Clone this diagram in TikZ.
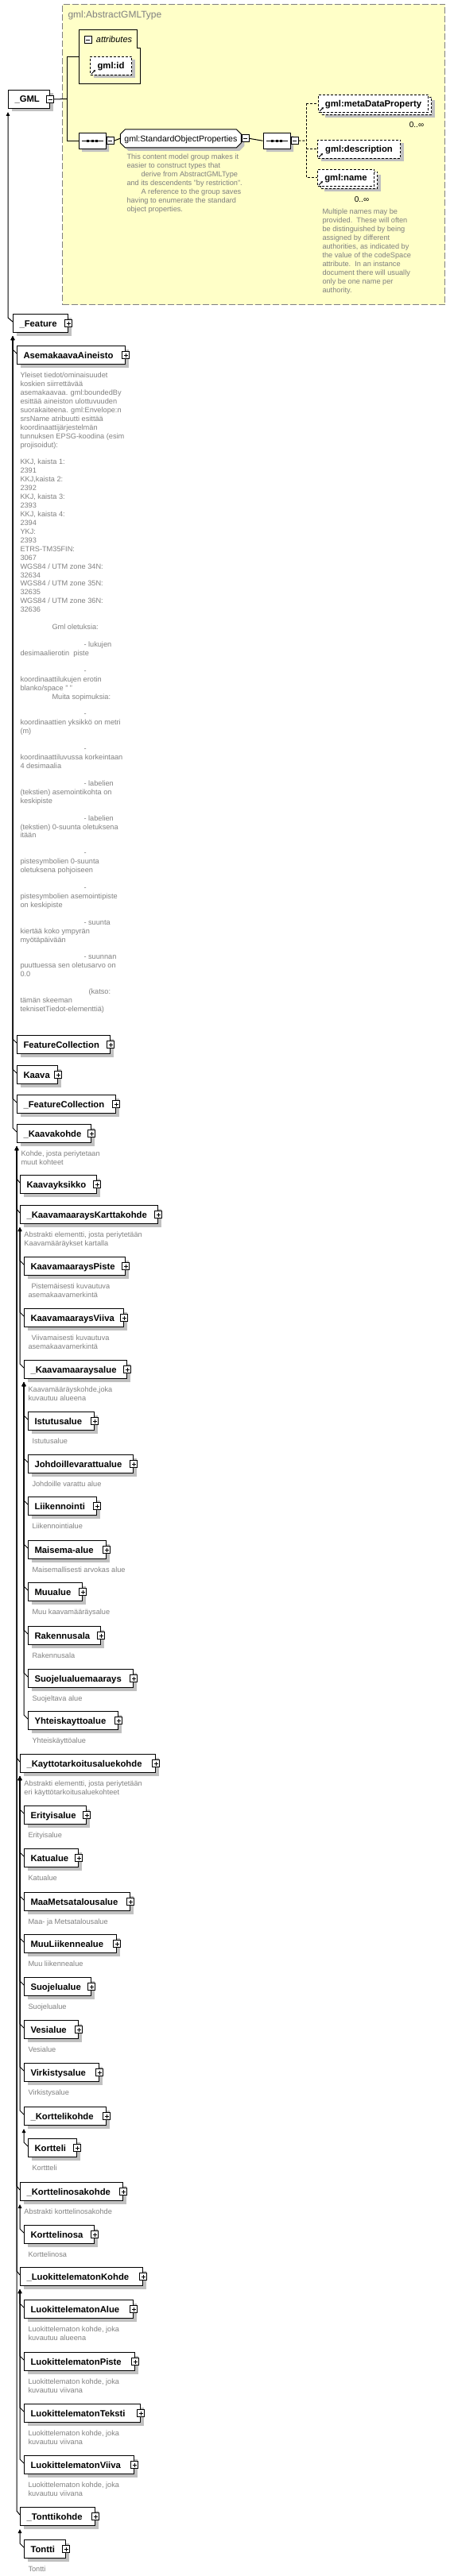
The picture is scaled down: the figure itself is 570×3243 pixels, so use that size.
\documentclass[tikz,border=0pt]{standalone}
\usepackage{fontspec}
\setmainfont{Liberation Sans}
\usetikzlibrary{positioning,calc,shapes.misc,arrows.meta}

\definecolor{abstractfill}{RGB}{255,255,200}
\definecolor{shadowgray}{RGB}{192,192,192}
\definecolor{notegray}{RGB}{128,128,128}

\tikzset{
  boxshadow/.style={preaction={draw=none, fill=shadowgray, transform canvas={shift={(4pt,-4pt)}}}},
  elem/.style={draw, fill=white, anchor=north west, minimum height=23pt, inner xsep=8pt, inner ysep=0pt,
    text height=8pt, text depth=0pt, font=\fontsize{11.3}{13}\selectfont\bfseries, boxshadow},
  refelem/.style={draw, dash pattern=on 3pt off 2pt, fill=white, anchor=north west, minimum height=23pt,
    inner sep=0pt, text height=8pt, text depth=0pt, font=\fontsize{11.3}{13}\selectfont\bfseries},
  seqbox/.style={chamfered rectangle, chamfered rectangle xsep=5pt, chamfered rectangle ysep=5pt, draw, fill=white, anchor=north west,
    minimum width=34pt, minimum height=20pt, inner sep=0pt, boxshadow},
  groupbox/.style={chamfered rectangle, chamfered rectangle xsep=3pt, chamfered rectangle ysep=3pt, draw, fill=white, anchor=north west,
    minimum width=152pt, minimum height=23pt, inner sep=0pt, text height=8pt, text depth=0pt,
    font=\fontsize{10.6}{12}\selectfont, boxshadow},
  plusbtn/.style={draw, fill=white, minimum size=9pt, inner sep=0pt, line width=0.8pt, path picture={
      \draw[line width=0.8pt] ([xshift=2pt]path picture bounding box.west) -- ([xshift=-2pt]path picture bounding box.east);
      \draw[line width=0.8pt] ([yshift=-2pt]path picture bounding box.north) -- ([yshift=2pt]path picture bounding box.south);}},
  minusbtn/.style={draw, fill=white, minimum size=9pt, inner sep=0pt, line width=0.8pt, path picture={
      \draw[line width=0.8pt] ([xshift=2pt]path picture bounding box.west) -- ([xshift=-2pt]path picture bounding box.east);}},
  note/.style={anchor=north west, inner sep=0pt, align=left, text=notegray, font=\fontsize{9.2}{10.93}\selectfont},
  occurs/.style={inner sep=0pt, font=\fontsize{10}{12}\selectfont},
  inh/.style={-{Triangle[width=4.5pt,length=5pt]}},
  optional/.style={dash pattern=on 3pt off 2pt},
  refmark/.style={-{Latex[length=2.5pt,width=3pt]}, line width=1pt},
}

\begin{document}
\begin{tikzpicture}[x=1pt, y=-1pt, line width=1pt]
  \useasboundingbox (0,0) rectangle (570,3243);

  % gml:AbstractGMLType
  \node[draw=notegray, dash pattern=on 8pt off 3pt, fill=abstractfill, anchor=north west,
    minimum width=481pt, minimum height=378pt, inner sep=0pt] (abstype) at (78,5) {};
  \node[anchor=west, inner sep=0pt, text=notegray, font=\fontsize{12}{14}\selectfont] (abstitle) at (85,19) {gml:AbstractGMLType};

  \node[elem, minimum width=52pt] (gml) at (10,113) {\makebox[36pt][l]{\_GML}};
  \node[minusbtn] (gml-btn) at (gml.east) {};

  \node[inner sep=0pt, minimum width=77pt, minimum height=67pt, anchor=north west] (attr) at (99,38) {};
  \draw (attr.north west) -- ++(73,0) -- ++(0,23) -- ++(4,0) |- (attr.south west) -- cycle;
  \node[minusbtn] (attr-btn) at (110.5,50) {};
  \node[right=5pt of attr-btn, inner sep=0pt, font=\fontsize{11}{13}\selectfont\itshape] (attr-lbl) {attributes};
  \node[refelem, boxshadow, minimum width=52pt] (gmlid) at (113,71) {gml:id};

  \node[seqbox] (seq1) at (99,167) {};
  \node[minusbtn, anchor=west] (seq1-btn) at (seq1.east) {};
  \node[groupbox] (sop) at (154,165.5) {gml:StandardObjectProperties};
  \node[minusbtn, anchor=west] (sop-btn) at (sop.east) {};
  \node[seqbox] (seq2) at (331,167) {};
  \node[minusbtn, anchor=west] (seq2-btn) at (seq2.east) {};
  \foreach \s in {seq1, seq2} {
    \draw ($(\s.west)+(4,0)$) -- ($(\s.east)+(-4,0)$);
    \foreach \d in {-5.5, 0, 5.5}
      \fill ($(\s.center)+(\d,0)$) ++(-1.5,-1.5) rectangle ++(3,3);
  }

  \node[refelem, boxshadow, minimum width=138pt, minimum height=22pt] (metaback) at (404,122) {};
  \node[refelem, minimum width=138pt, minimum height=22pt] (meta) at (400,119) {gml:metaDataProperty};
  \node[refelem, boxshadow, minimum width=104pt] (gmldesc) at (399,176) {gml:description};
  \node[refelem, boxshadow, minimum width=71pt, minimum height=21pt] (gmlnameback) at (403,216) {};
  \node[refelem, minimum width=71pt, minimum height=21pt] (gmlname) at (399,213) {gml:name};
  \foreach \r in {gmlid, meta, gmldesc, gmlname}
    \draw[refmark] ($(\r.south west)+(2,-2)$) -- ++(5,-5);
  \node[occurs] (meta-occ) at ($(meta.south east)+(-15,15)$) {0..∞};
  \node[occurs] (gmlname-occ) at ($(gmlname.south east)+(-16,16)$) {0..∞};

  \node[note, font=\fontsize{9.2}{11}\selectfont] (sop-note) at ($(sop.south west)+(5,10)$) {This content model group makes it\\
easier to construct types that\\
\hspace*{18pt}derive from AbstractGMLType\\
and its descendents "by restriction".\\
\hspace*{18pt}A reference to the group saves\\
having to enumerate the standard\\
object properties.};
  \node[note, font=\fontsize{9.2}{11}\selectfont] (gmlname-note) at (405,262.5) {Multiple names may be\\
provided.\ \ These will often\\
be distinguished by being\\
assigned by different\\
authorities, as indicated by\\
the value of the codeSpace\\
attribute.\ \ In an instance\\
document there will usually\\
only be one name per\\
authority.};

  \coordinate (gmlfork) at (84,124.5);
  \draw (gml-btn.east) -- (gmlfork);
  \draw (gmlfork |- attr.west) -- (attr.west);
  \draw (gmlfork |- attr.west) -- (gmlfork |- seq1.west) -- (seq1.west);
  \draw (seq1-btn.east) -- (sop.west);
  \draw (sop-btn.east) -- (seq2.west);
  \coordinate (seqfork) at (385,177);
  \draw[optional] (seq2-btn.east) -- (seqfork);
  \draw[optional] (seqfork |- meta.west) -- (meta.west);
  \draw[optional] (seqfork |- meta.west) -- (seqfork |- gmlname.west) -- (gmlname.west);
  \draw[optional] (seqfork |- gmldesc.west) -- (gmldesc.west);

  % derived elements
  \foreach \id/\lbl/\x/\y/\w [evaluate=\w as \tw using \w-16] in {
    feature/\_Feature/16/395/69,
    asema/AsemakaavaAineisto/21/435/136,
    featcoll/FeatureCollection/21/1303/117,
    kaava/Kaava/21/1341/51,
    absfeatcoll/\_FeatureCollection/21/1378/124,
    kohde/\_Kaavakohde/21/1415/93,
    kaavayksikko/Kaavayksikko/25/1479/96,
    karttakohde/\_KaavamaaraysKarttakohde/25/1517/173,
    piste/KaavamaaraysPiste/30/1582/127,
    viiva/KaavamaaraysViiva/30/1647/125,
    maaraysalue/\_Kaavamaaraysalue/30/1712/129,
    istutus/Istutusalue/35/1777/83,
    johdoille/Johdoillevarattualue/35/1831/132,
    liikennointi/Liikennointi/35/1884/86,
    maisema/Maisema-alue/35/1939/98,
    muualue/Muualue/35/1992/68,
    rakennusala/Rakennusala/35/2047/91,
    suojelumaar/Suojelualuemaarays/35/2101/132,
    yhteis/Yhteiskayttoalue/35/2154/113,
    kaytto/\_Kayttotarkoitusaluekohde/25/2208/170,
    erityis/Erityisalue/30/2273/78,
    katu/Katualue/30/2327/68,
    maamets/MaaMetsatalousalue/30/2382/133,
    muuliik/MuuLiikennealue/30/2435/116,
    suojelu/Suojelualue/30/2489/84,
    vesi/Vesialue/30/2543/68,
    virkistys/Virkistysalue/30/2597/94,
    korttelikohde/\_Korttelikohde/30/2652/103,
    kortteli/Kortteli/35/2692/61,
    osakohde/\_Korttelinosakohde/25/2747/129,
    osa/Korttelinosa/30/2801/88,
    luokkohde/\_LuokittelematonKohde/25/2854/154,
    luokalue/LuokittelematonAlue/30/2895/137,
    luokpiste/LuokittelematonPiste/30/2961/139,
    luokteksti/LuokittelematonTeksti/30/3026/146,
    luokviiva/LuokittelematonViiva/30/3091/138,
    tonttikohde/\_Tonttikohde/25/3156/94,
    tontti/Tontti/30/3197/52} {
    \node[elem] (\id) at (\x,\y) {\makebox[\tw pt][l]{\lbl}};
    \node[plusbtn] (\id-btn) at (\id.east) {};
  }

  \foreach \id/\txt in {
    kohde/{Kohde, josta periytetaan\\muut kohteet},
    karttakohde/{Abstrakti elementti, josta periytetään\\Kaavamääräykset kartalla},
    piste/{\hspace*{4pt}Pistemäisesti kuvautuva\\asemakaavamerkintä},
    viiva/{\hspace*{4pt}Viivamaisesti kuvautuva\\asemakaavamerkintä},
    maaraysalue/{Kaavamääräyskohde,joka\\kuvautuu alueena},
    istutus/Istutusalue,
    johdoille/Johdoille varattu alue,
    liikennointi/Liikennointialue,
    maisema/Maisemallisesti arvokas alue,
    muualue/Muu kaavamääräysalue,
    rakennusala/Rakennusala,
    suojelumaar/Suojeltava alue,
    yhteis/Yhteiskäyttöalue,
    kaytto/{Abstrakti elementti, josta periytetään\\eri käyttötarkoitusaluekohteet},
    erityis/Erityisalue,
    katu/Katualue,
    maamets/Maa- ja Metsatalousalue,
    muuliik/Muu liikennealue,
    suojelu/Suojelualue,
    vesi/Vesialue,
    virkistys/Virkistysalue,
    kortteli/Korttteli,
    osakohde/Abstrakti korttelinosakohde,
    osa/Korttelinosa,
    luokalue/{Luokittelematon kohde, joka\\kuvautuu alueena},
    luokpiste/{Luokittelematon kohde, joka\\kuvautuu viivana},
    luokteksti/{Luokittelematon kohde, joka\\kuvautuu viivana},
    luokviiva/{Luokittelematon kohde, joka\\kuvautuu viivana},
    tontti/Tontti}
    \node[note] (\id-note) at ($(\id.south west)+(5,9.5)$) {\txt};

  \node[note] (asema-note) at ($(asema.south west)+(4,9.5)$) {Yleiset tiedot/ominaisuudet\\
koskien siirrettävää\\
asemakaavaa. gml:boundedBy\\
esittää aineiston ulottuvuuden\\
suorakaiteena. gml:Envelope:n\\
srsName atribuutti esittää\\
koordinaattijärjestelmän\\
tunnuksen EPSG-koodina (esim\\
projisoidut):\\
\\
KKJ, kaista 1:\\
2391\\
KKJ,kaista 2:\\
2392\\
KKJ, kaista 3:\\
2393\\
KKJ, kaista 4:\\
2394\\
YKJ:\\
2393\\
ETRS-TM35FIN:\\
3067\\
WGS84 / UTM zone 34N:\\
32634\\
WGS84 / UTM zone 35N:\\
32635\\
WGS84 / UTM zone 36N:\\
32636\\
\\
\hspace*{40pt}Gml oletuksia:\\
\\
\hspace*{80pt}- lukujen\\
desimaalierotin\ \ piste\\
\\
\hspace*{80pt}-\\
koordinaattilukujen erotin\\
blanko/space " "\\
\hspace*{40pt}Muita sopimuksia:\\
\\
\hspace*{80pt}-\\
koordinaattien yksikkö on metri\\
(m)\\
\\
\hspace*{80pt}-\\
koordinaattiluvussa korkeintaan\\
4 desimaalia\\
\\
\hspace*{80pt}- labelien\\
(tekstien) asemointikohta on\\
keskipiste\\
\\
\hspace*{80pt}- labelien\\
(tekstien) 0-suunta oletuksena\\
itään\\
\\
\hspace*{80pt}-\\
pistesymbolien 0-suunta\\
oletuksena pohjoiseen\\
\\
\hspace*{80pt}-\\
pistesymbolien asemointipiste\\
on keskipiste\\
\\
\hspace*{80pt}- suunta\\
kiertää koko ympyrän\\
myötäpäivään\\
\\
\hspace*{80pt}- suunnan\\
puuttuessa sen oletusarvo on\\
0.0\\
\\
\hspace*{86pt}(katso:\\
tämän skeeman\\
teknisetTiedot-elementtiä)};

  % inheritance lines
  \foreach \p/\kids in {
    gml/{feature},
    feature/{asema,featcoll,kaava,absfeatcoll,kohde},
    kohde/{kaavayksikko,karttakohde,kaytto,osakohde,luokkohde,tonttikohde},
    karttakohde/{piste,viiva,maaraysalue},
    maaraysalue/{istutus,johdoille,liikennointi,maisema,muualue,rakennusala,suojelumaar,yhteis},
    kaytto/{erityis,katu,maamets,muuliik,suojelu,vesi,virkistys,korttelikohde},
    korttelikohde/{kortteli},
    osakohde/{osa},
    luokkohde/{luokalue,luokpiste,luokteksti,luokviiva},
    tonttikohde/{tontti}} {
    \foreach \c in \kids
      \draw[inh] ($(\c.north west)+(0,10)$) -- ($(\p.south west |- \c.north west)+(0,5)$) -- ($(\p.south west)+(0,4)$);
  }
\end{tikzpicture}
\end{document}
